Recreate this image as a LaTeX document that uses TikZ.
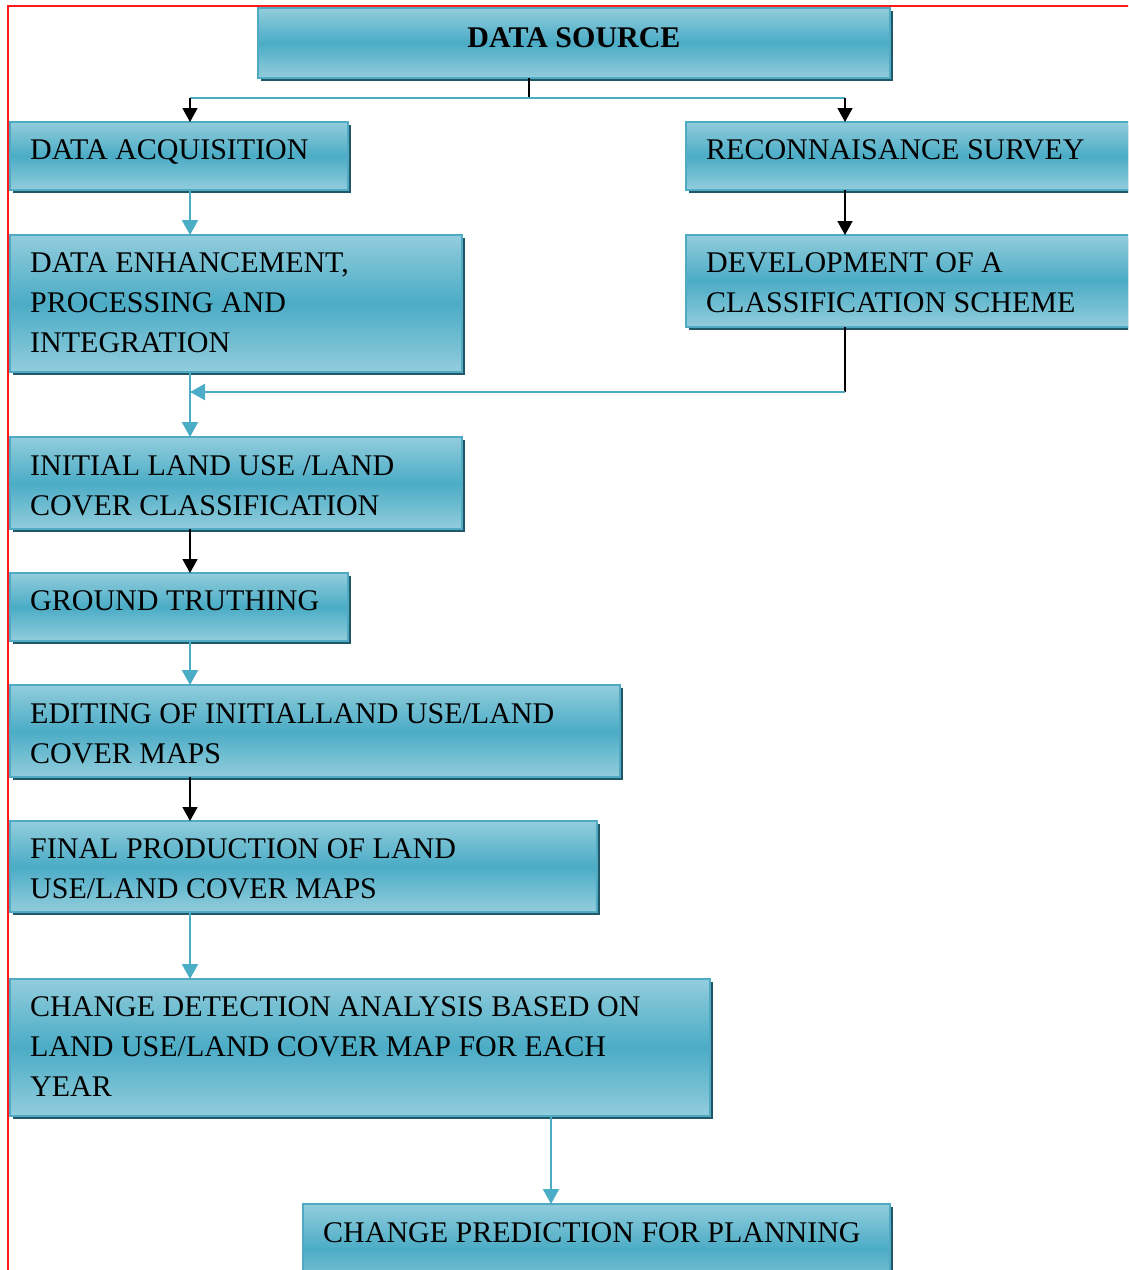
\documentclass[tikz,border=0pt]{standalone}
\usepackage{fontspec}
\setmainfont{Liberation Serif}
\usetikzlibrary{arrows.meta,shadows}
\definecolor{boxlight}{RGB}{146,205,220}
\definecolor{boxmid}{RGB}{75,172,198}
\definecolor{boxline}{RGB}{80,170,196}
\definecolor{boxshadow}{RGB}{32,88,103}
\definecolor{tealline}{RGB}{75,172,198}
\definecolor{framered}{RGB}{255,25,25}
\tikzset{
  flowbox/.style={rectangle, anchor=north west, inner sep=0pt, outer sep=0pt,
    draw=boxline, line width=2pt,
    top color=boxlight, bottom color=boxlight, middle color=boxmid,
    drop shadow={shadow xshift=3pt, shadow yshift=-3pt, fill=boxshadow, opacity=1}},
  boxtext/.style={anchor=base west, inner sep=0pt, font=\fontsize{30}{40}\selectfont},
  tealconn/.style={draw=tealline, line width=2.2pt},
  tealarrow/.style={tealconn, -{Triangle[width=16pt 0,length=15pt 0]}},
  blackconn/.style={draw=black, line width=1.6pt},
  blackarrow/.style={blackconn, -{Triangle[width=15pt 0,length=14pt 0]}},
}
\newcommand{\boxlines}[1]{\parbox[t]{700pt}{\raggedright #1}}
\begin{document}
\begin{tikzpicture}[x=1pt,y=-1pt]
\useasboundingbox (0,0) rectangle (1128,1270);
\clip (0,0) rectangle (1128,1270);
\fill[white] (0,0) rectangle (1128,1270);
% red frame
\draw[framered, line width=2pt] (7.5,1275) -- (7.5,6) -- (1135,6);

% boxes
\node[flowbox, minimum width=632pt, minimum height=70pt] (src) at (258,8) {};
\node[flowbox, minimum width=338pt, minimum height=68pt] (acq) at (10,122) {};
\node[flowbox, minimum width=460pt, minimum height=68pt] (rec) at (686,122) {};
\node[flowbox, minimum width=452pt, minimum height=137pt] (enh) at (10,235) {};
\node[flowbox, minimum width=460pt, minimum height=92pt] (dev) at (686,235) {};
\node[flowbox, minimum width=452pt, minimum height=92pt] (ini) at (10,437) {};
\node[flowbox, minimum width=338pt, minimum height=68pt] (gnd) at (10,573) {};
\node[flowbox, minimum width=610pt, minimum height=92pt] (edt) at (10,685) {};
\node[flowbox, minimum width=587pt, minimum height=91pt] (fin) at (10,821) {};
\node[flowbox, minimum width=700pt, minimum height=137pt] (chd) at (10,979) {};
\node[flowbox, minimum width=587pt, minimum height=90pt] (prd) at (303,1204) {};

% texts
\node[boxtext, anchor=base] (tsrc) at (574,47) {\textbf{DATA SOURCE}};
\node[boxtext] (tacq) at (30,159) {\boxlines{DATA ACQUISITION}};
\node[boxtext] (trec) at (706,159) {\boxlines{RECONNAISANCE SURVEY}};
\node[boxtext] (tenh) at (30,272) {\boxlines{DATA ENHANCEMENT,\\PROCESSING AND\\INTEGRATION}};
\node[boxtext] (tdev) at (706,272) {\boxlines{DEVELOPMENT OF A\\CLASSIFICATION SCHEME}};
\node[boxtext] (tini) at (30,475) {\boxlines{INITIAL LAND USE /LAND\\COVER CLASSIFICATION}};
\node[boxtext] (tgnd) at (30,610) {\boxlines{GROUND TRUTHING}};
\node[boxtext] (tedt) at (30,723) {\boxlines{EDITING OF INITIALLAND USE/LAND\\COVER MAPS}};
\node[boxtext] (tfin) at (30,858) {\boxlines{FINAL PRODUCTION OF LAND\\USE/LAND COVER MAPS}};
\node[boxtext] (tchd) at (30,1016) {\boxlines{CHANGE DETECTION ANALYSIS BASED ON\\LAND USE/LAND COVER MAP FOR EACH\\YEAR}};
\node[boxtext] (tprd) at (323,1242) {\boxlines{CHANGE PREDICTION FOR PLANNING}};

% connectors
\coordinate (j) at (529,98);
\coordinate (jl) at (190,98);
\coordinate (jr) at (845,98);
\coordinate (k) at (845,392);
\coordinate (kl) at (190,392);
\coordinate (m) at (551,0);

\draw[blackconn] (j |- src.south) -- (j);
\draw[tealconn] (jl) -- (jr);
\draw[blackarrow] (jl) -- (jl |- acq.north);
\draw[blackarrow] (jr) -- (jr |- rec.north);
\draw[tealarrow] (jl |- acq.south) -- (jl |- enh.north);
\draw[blackarrow] (jr |- rec.south) -- (jr |- dev.north);
\draw[blackconn] (jr |- dev.south) -- (k);
\draw[tealarrow] (k) -- (kl);
\draw[tealarrow] (jl |- enh.south) -- (jl |- ini.north);
\draw[blackarrow] (jl |- ini.south) -- (jl |- gnd.north);
\draw[tealarrow] (jl |- gnd.south) -- (jl |- edt.north);
\draw[blackarrow] (jl |- edt.south) -- (jl |- fin.north);
\draw[tealarrow] (jl |- fin.south) -- (jl |- chd.north);
\draw[tealarrow] (m |- chd.south) -- (m |- prd.north);
\end{tikzpicture}
\end{document}
